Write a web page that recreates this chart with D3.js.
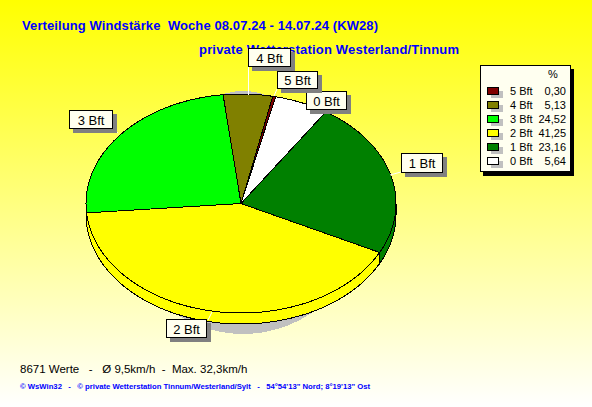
<!DOCTYPE html>
<html><head><meta charset="utf-8">
<script src="https://cdnjs.cloudflare.com/ajax/libs/d3/7.9.0/d3.min.js"></script>
<style>html,body{margin:0;padding:0;overflow:hidden}svg{display:block}text{font-family:"Liberation Sans",Arial,sans-serif;white-space:pre}</style>
</head><body><svg id="c" width="592" height="407"></svg>
<script>
const sliceNames=["0 Bft","1 Bft","2 Bft","3 Bft","4 Bft","5 Bft"];
const sliceValues=[5.64,23.16,41.25,24.52,5.13,0.30];
const sliceLabels=["5,64","23,16","41,25","24,52","5,13","0,30"];
const sliceColors=["#ffffff","#008000","#ffff00","#00ff00","#808000","#800000"];
const legendOrder=["5 Bft","4 Bft","3 Bft","2 Bft","1 Bft","0 Bft"];
const titleLines=["Verteilung Windstärke  Woche 08.07.24 - 14.07.24 (KW28)","private Wetterstation Westerland/Tinnum"];
const footerLine="8671 Werte   -   Ø 9,5km/h  -  Max. 32,3km/h";
const creditLine="© WsWin32   -   © private Wetterstation Tinnum/Westerland/Sylt   -   54°54'13\" Nord; 8°19'13\" Ost";
const calloutBoxes={"0 Bft":[306,91,41,19],"1 Bft":[401,153,42,20],"2 Bft":[166,319,41,19],"3 Bft":[69,110,44,19],"4 Bft":[248,48,43,19],"5 Bft":[277,71,41,18]};
const calloutLines={"1 Bft":[401,172,390,175],"2 Bft":[208,320,212,312],"3 Bft":[113,129,118,133],"4 Bft":[248.5,67,248.5,95],"5 Bft":[277,89,274,96]};

const svg=d3.select("#c");
const defs=svg.append("defs");
const g=defs.append("linearGradient").attr("id","bg").attr("x1",0).attr("x2",0).attr("y1",0).attr("y2",1);
g.append("stop").attr("offset","0").attr("stop-color","#ffff00");
g.append("stop").attr("offset","1").attr("stop-color","#ffffff");
svg.append("rect").attr("width",592).attr("height",407).attr("fill","url(#bg)");

const cx=241,cy=203.5,rx=155,ry=109.5,depth=11;
const pie=d3.pie().sort(null).value(d=>d).startAngle(12.9*Math.PI/180).endAngle((360+12.9)*Math.PI/180);
const arcs=pie(sliceValues);
const pt=(a,dy=0)=>[cx+rx*Math.sin(a),cy-ry*Math.cos(a)+dy];
const line=d3.line();
const sample=(a0,a1)=>d3.range(0,61).map(i=>a0+(a1-a0)*i/60);

// shadow: two half ellipses sharing a centre
svg.append("path").attr("fill","#c0c0c0").attr("shape-rendering","crispEdges")
  .attr("d","M155,212.5 A88,121.5 0 0 1 331,212.5 Z M121,212.5 A122,121.5 0 0 0 365,212.5 Z");

// side walls
arcs.forEach((d,i)=>{
  const a0=Math.max(d.startAngle,Math.PI/2),a1=Math.min(d.endAngle,Math.PI*1.5);
  if(a1<=a0) return;
  const top=sample(a0,a1).map(a=>pt(a)),bot=sample(a0,a1).map(a=>pt(a,depth)).reverse();
  svg.append("path").attr("d",line(top.concat(bot))+"Z").attr("fill",sliceColors[i]).attr("stroke","#000").attr("stroke-width",1).attr("shape-rendering","crispEdges");
});
// top faces
arcs.forEach((d,i)=>{
  const pts=[[cx,cy]].concat(sample(d.startAngle,d.endAngle).map(a=>pt(a)));
  svg.append("path").attr("d",line(pts)+"Z").attr("fill",sliceColors[i]).attr("stroke","#000").attr("stroke-width",1).attr("shape-rendering","crispEdges");
});

// titles
const tt=(x,y,s)=>svg.append("text").attr("x",x).attr("y",y).attr("font-size",13).attr("font-weight","bold").attr("fill","#0000ff").text(s);
tt(22,30,titleLines[0]).attr("textLength",356).attr("lengthAdjust","spacing");
tt(199,54,titleLines[1]).attr("textLength",260).attr("lengthAdjust","spacing");

// callouts
Object.values(calloutLines).forEach(([a,b,c,d])=>{
  svg.append("line").attr("x1",a).attr("y1",b).attr("x2",c).attr("y2",d).attr("stroke","#fff").attr("stroke-width",1);
});
sliceNames.forEach(n=>{
  const [x,y,w,h]=calloutBoxes[n];
  svg.append("rect").attr("x",x+4).attr("y",y+4).attr("width",w).attr("height",h).attr("fill","#808080");
  svg.append("rect").attr("x",x+.5).attr("y",y+.5).attr("width",w-1).attr("height",h-1).attr("fill","#fffff0").attr("stroke","#000");
  svg.append("text").attr("x",x+w/2).attr("y",y+h/2+5).attr("text-anchor","middle").attr("font-size",13).attr("fill","#000").text(n);
});

// legend
const lx=480,ly=65,lw=91,lh=107;
svg.append("rect").attr("x",lx+3).attr("y",ly+4).attr("width",lw).attr("height",lh).attr("fill","#000");
svg.append("rect").attr("x",lx+.5).attr("y",ly+.5).attr("width",lw-1).attr("height",lh-1).attr("fill","#fffff0").attr("stroke","#000");
svg.append("text").attr("x",553).attr("y",78).attr("text-anchor","middle").attr("font-size",11).text("%");
const rowY=d3.scalePoint().domain(legendOrder).range([95,165]);
legendOrder.forEach(n=>{
  const i=sliceNames.indexOf(n),y=rowY(n);
  svg.append("rect").attr("x",491).attr("y",y-4).attr("width",12).attr("height",7).attr("fill","#c0c0c0");
  svg.append("rect").attr("x",487.5).attr("y",y-7.5).attr("width",11).attr("height",7).attr("fill",sliceColors[i]).attr("stroke","#000");
  svg.append("text").attr("x",510).attr("y",y).attr("font-size",11).text(n);
  svg.append("text").attr("x",566).attr("y",y).attr("text-anchor","end").attr("font-size",11).text(sliceLabels[i]);
});

// footer
svg.append("text").attr("x",20).attr("y",373).attr("font-size",11.5).text(footerLine);
svg.append("text").attr("x",20).attr("y",389).attr("font-size",7.7).attr("font-weight","bold").attr("fill","#0000ff").text(creditLine);
</script></body></html>
